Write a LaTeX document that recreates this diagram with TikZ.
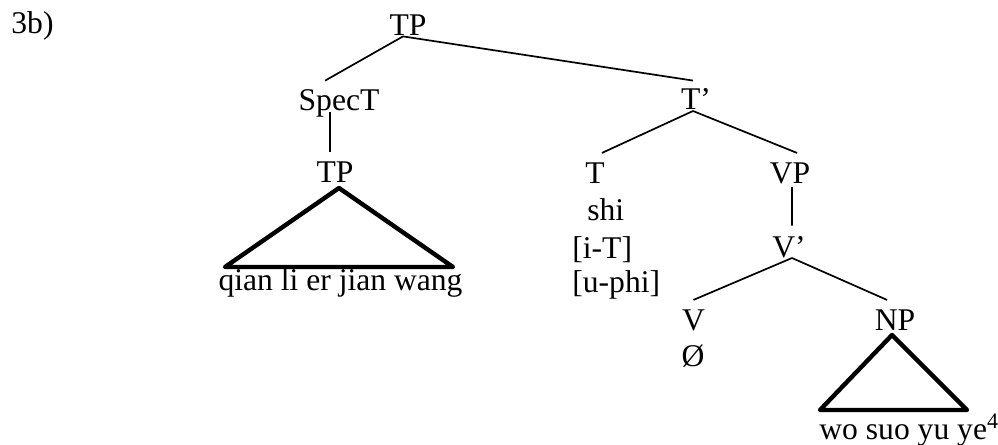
\documentclass[tikz,border=0pt]{standalone}
\usepackage{fontspec}
\setmainfont{Liberation Serif}

\begin{document}
\begin{tikzpicture}[x=0.5pt,y=-0.5pt,
    every node/.style={inner sep=0pt,anchor=base,font=\fontsize{15.8}{19}\selectfont},
    branch/.style={line width=0.85pt},
    roof/.style={line width=2.2pt,line join=round}]
    \useasboundingbox (0,0) rectangle (998,445);
    \node[anchor=base west] (ex) at (11,33) {3b)};
    \node (tp) at (408,35) {TP};
    \node (spec) at (339,110) {SpecT};
    \node (tbar) at (696,109) {T’};
    \node (tpin) at (335,182) {TP};
    \node (t) at (595,183) {T};
    \node (vp) at (790,183) {VP};
    \node[anchor=base west] (shi) at (587,220) {shi};
    \node[anchor=base west] (it) at (572,258) {[i-T]};
    \node[anchor=base west] (uphi) at (572,292) {[u-phi]};
    \node (vbar) at (789,257) {V’};
    \node (v) at (693.5,330) {V};
    \node (np) at (895,330) {NP};
    \node (null) at (693,366) {Ø};
    \node (qian) at (340.5,290) {qian li er jian wang};
    \node[anchor=base west] (wo) at (819,439) {wo suo yu ye\textsuperscript{4}};
    \coordinate (tpl) at (225,267);
    \coordinate (tpr) at (453,267);
    \coordinate (npl) at (820,410);
    \coordinate (npr) at (967,410);
    \draw[branch]
    ([shift={(-5,1)}]tp.south) -- ([shift={(-14,-8)}]spec.north)
    ([shift={(-5,1)}]tp.south) -- ([shift={(-3,-7)}]tbar.north)
    ([shift={(-9,2)}]spec.base) -- ([shift={(-5,-9)}]tpin.north)
    ([shift={(-3,2)}]tbar.base) -- ([shift={(7,-9)}]t.north)
    ([shift={(-3,2)}]tbar.base) -- ([shift={(7,-9)}]vp.north)
    ([shift={(2,4)}]vp.base) -- ([shift={(3,-10)}]vbar.north)
    ([shift={(3,1)}]vbar.base) -- ([shift={(0,-9)}]v.north)
    ([shift={(3,1)}]vbar.base) -- ([shift={(-8,-9)}]np.north)
    ;
    \draw[roof] ([shift={(4,6)}]tpin.base) -- (tpl) -- (tpr) -- cycle;
    \draw[roof] ([shift={(-3,5)}]np.base) -- (npl) -- (npr) -- cycle;
\end{tikzpicture}
\end{document}
